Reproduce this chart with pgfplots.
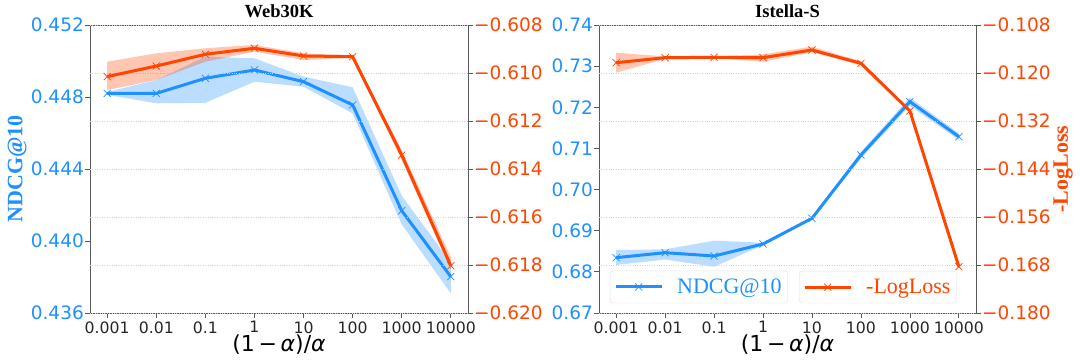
\documentclass[border=0pt]{standalone}
\usepackage{pgfplots}
\pgfplotsset{compat=1.18}
\usepackage{pgfplotstable}
\usepackage{fontspec}
\setmainfont{Liberation Serif}
\newfontfamily\dejavu{DejaVu Sans}
\definecolor{ndcg}{RGB}{30,144,255}
\definecolor{loss}{RGB}{255,69,0}

% mean values
\pgfplotstableread{
x y
0 0.44820
1 0.44820
2 0.44904
3 0.44950
4 0.44885
5 0.44756
6 0.44168
7 0.43802
}\webndcg
\pgfplotstableread{
x y
0 -0.61015
1 -0.60971
2 -0.60922
3 -0.60897
4 -0.60929
5 -0.60932
6 -0.61342
7 -0.61803
}\webloss
\pgfplotstableread{
x y
0 0.68345
1 0.68466
2 0.68385
3 0.68677
4 0.69302
5 0.70840
6 0.72136
7 0.71286
}\istndcg
\pgfplotstableread{
x y
0 -0.11742
1 -0.11617
2 -0.11608
3 -0.11617
4 -0.11425
5 -0.11758
6 -0.12950
7 -0.16842
}\istloss
% bands: upper edge left to right, then lower edge right to left
\pgfplotstableread{
x y
0 0.44828
1 0.44894
2 0.45024
3 0.45015
4 0.44913
5 0.44854
6 0.44252
7 0.43880
7 0.43709
6 0.44092
5 0.44709
4 0.44857
3 0.44885
2 0.44768
1 0.44765
0 0.44812
}\webndcgband
\pgfplotstableread{
x y
0 -0.60953
1 -0.60918
2 -0.60897
3 -0.60883
4 -0.60918
5 -0.60927
6 -0.61322
7 -0.61766
7 -0.61821
6 -0.61362
5 -0.60937
4 -0.60946
3 -0.60911
2 -0.60953
1 -0.61029
0 -0.61071
}\weblossband
\pgfplotstableread{
x y
0 0.68531
1 0.68548
2 0.68758
3 0.68707
4 0.69332
5 0.70920
6 0.72236
7 0.71366
7 0.71206
6 0.72036
5 0.70760
4 0.69272
3 0.68647
2 0.68125
1 0.68300
0 0.68167
}\istndcgband
\pgfplotstableread{
x y
0 -0.11492
1 -0.11587
2 -0.11588
3 -0.11533
4 -0.11342
5 -0.11708
6 -0.12920
7 -0.16812
7 -0.16872
6 -0.12980
5 -0.11808
4 -0.11483
3 -0.11717
2 -0.11628
1 -0.11647
0 -0.11992
}\istlossband

\pgfplotsset{
  base/.style={
    scale only axis, height=288pt,
    xmin=-0.35, xmax=7.35,
    tick align=outside, major tick length=5pt,
    every tick/.style={black!65, line width=0.8pt},
    axis line style={black!65, line width=0.8pt},
    yticklabel style={font=\dejavu\fontsize{18.5}{20}\selectfont, inner xsep=1pt},
    legend image code/.code={\draw[mark repeat=2,mark phase=2] plot coordinates {(0pt,0pt)(23pt,0pt)(46pt,0pt)};},
    legend style={draw=black!12, rounded corners=3pt, fill=white, fill opacity=0.8, draw opacity=1, text opacity=1,
      font=\fontsize{22}{24}\selectfont, inner xsep=4pt, inner ysep=6pt, anchor=south west},
  },
  mainax/.style={base,
    xtick={0,...,7}, xticklabels={0.001,0.01,0.1,1,10,100,1000,10000},
    xticklabel style={font=\dejavu\fontsize{15.7}{17}\selectfont, text=black!85},
    xtick pos=bottom, ytick pos=left,
    yticklabel style={text=ndcg},
    xlabel={\dejavu (1\,−\,\textit{α})/\textit{α}},
    xlabel style={font=\fontsize{22}{24}\selectfont, at={(axis description cs:0.5,-0.111)}, anchor=center},
    title style={font=\fontsize{18.5}{20}\selectfont\bfseries, yshift=-2pt},
  },
  twinax/.style={base,
    hide x axis, axis y line*=right, y axis line style={-},
    ytick pos=right,
    yticklabel style={text=loss},
    ymajorgrids, grid style={dotted, black!18, line width=0.6pt},
  },
  ndcgline/.style={ndcg, line width=3pt, mark=x, mark size=5pt, mark options={line width=0.7pt}},
  lossline/.style={loss, line width=3pt, mark=x, mark size=5pt, mark options={line width=0.7pt}},
}

\begin{document}
\begin{tikzpicture}
\path[use as bounding box] (0,0) rectangle (1080pt,361pt);

% ---------- Web30K ----------
\begin{axis}[mainax, at={(90pt,48pt)}, anchor=south west, width=378pt,
  ymin=0.436, ymax=0.452, ytick={0.436,0.440,0.444,0.448,0.452},
  yticklabels={0.436,0.440,0.444,0.448,0.452},
  title={Web30K},
  ylabel={NDCG@10},
  ylabel style={font=\fontsize{22}{24}\selectfont\bfseries, text=ndcg, at={(axis description cs:-0.193,0.5)}, anchor=center},
]
\addplot[fill=ndcg, fill opacity=0.3, draw=none, forget plot] table[x=x,y=y]{\webndcgband};
\addplot[ndcgline] table[x=x,y=y]{\webndcg};
\end{axis}
\begin{axis}[twinax, at={(90pt,48pt)}, anchor=south west, width=378pt,
  ymin=-0.620, ymax=-0.608, ytick={-0.620,-0.618,-0.616,-0.614,-0.612,-0.610,-0.608},
  yticklabels={−0.620,−0.618,−0.616,−0.614,−0.612,−0.610,−0.608},
]
\addplot[fill=loss, fill opacity=0.3, draw=none, forget plot] table[x=x,y=y]{\weblossband};
\addplot[lossline] table[x=x,y=y]{\webloss};
\end{axis}

% ---------- Istella-S ----------
\begin{axis}[mainax, at={(599pt,48pt)}, anchor=south west, width=377pt,
  ymin=0.67, ymax=0.74, ytick={0.67,0.68,0.69,0.70,0.71,0.72,0.73,0.74},
  yticklabels={0.67,0.68,0.69,0.70,0.71,0.72,0.73,0.74},
  title={Istella-S},
  legend style={at={(0.029,0.034)}},
]
\addplot[fill=ndcg, fill opacity=0.3, draw=none, forget plot] table[x=x,y=y]{\istndcgband};
\addplot[ndcgline] table[x=x,y=y]{\istndcg};
\addlegendentry{\hspace{12pt}\textcolor{ndcg}{NDCG@10}\hspace{9pt}}
\end{axis}
\begin{axis}[twinax, at={(599pt,48pt)}, anchor=south west, width=377pt,
  ymin=-0.180, ymax=-0.108, ytick={-0.180,-0.168,-0.156,-0.144,-0.132,-0.120,-0.108},
  yticklabels={−0.180,−0.168,−0.156,−0.144,−0.132,−0.120,−0.108},
  ylabel={-LogLoss},
  ylabel style={font=\fontsize{22}{24}\selectfont\bfseries, text=loss, at={(axis description cs:1.231,0.5)}, anchor=center},
  legend style={at={(0.5305,0.034)}},
]
\addplot[fill=loss, fill opacity=0.3, draw=none, forget plot] table[x=x,y=y]{\istlossband};
\addplot[lossline] table[x=x,y=y]{\istloss};
\addlegendentry{\hspace{12pt}\textcolor{loss}{-LogLoss}\hspace{9pt}}
\end{axis}
\end{tikzpicture}
\end{document}
